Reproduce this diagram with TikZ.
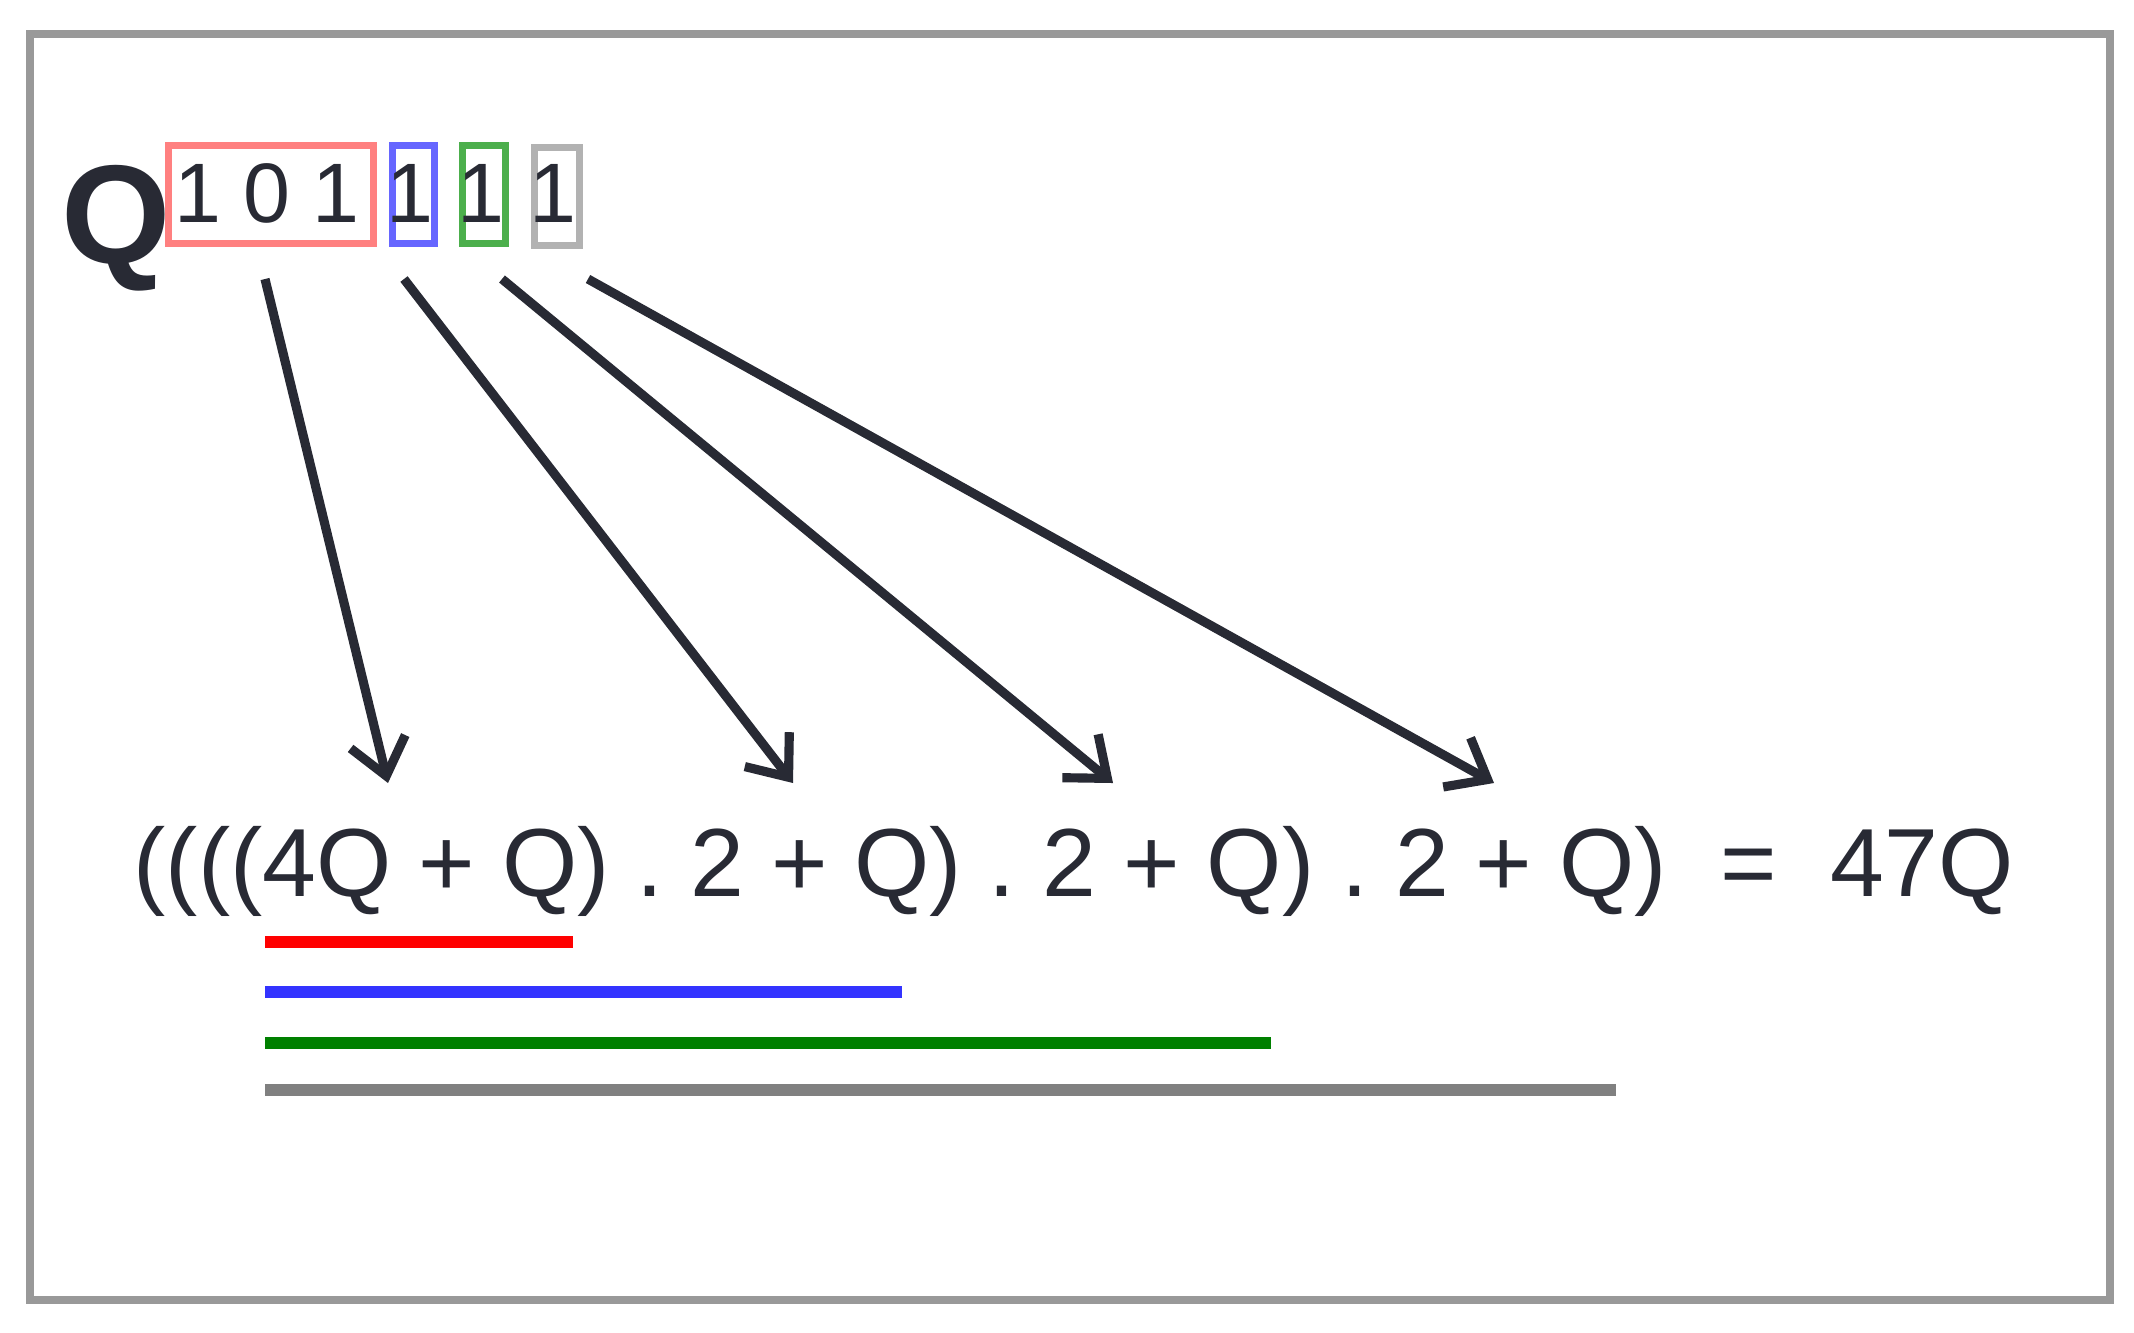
\documentclass[tikz,border=0pt]{standalone}
\usepackage{fontspec}
\usetikzlibrary{arrows.meta}
\setmainfont{Liberation Sans}
\definecolor{dk}{RGB}{40,42,52}
\begin{document}
\begin{tikzpicture}[x=0.01cm,y=-0.01cm,
  bx/.style={draw=#1,line width=2pt,minimum height=0.98cm,inner sep=0pt,anchor=north west},
  arr/.style={dk,line width=2.6pt,-{Straight Barb[length=10pt,width=16pt,line width=2.6pt]}},
  ul/.style={line width=3.5pt}]
\useasboundingbox (0,0) rectangle (2134,1332);
\draw[gray!80,line width=2.5pt] (30,34) rectangle (2110,1300);
\node[font=\fontsize{40}{40}\selectfont\bfseries,text=dk] (q) at (116,228) {Q};
\node[bx=red!50,minimum width=2.05cm] (r) at (165,142) {};
\node[bx=blue!60,minimum width=0.42cm] (b) at (389,142) {};
\node[bx=green!55!black!70,minimum width=0.43cm] (g) at (459,142) {};
\node[bx=gray!60,minimum width=0.45cm] (s) at (531,144) {};
\foreach \x/\d/\n in {198/1/d1,267/0/d2,336/1/d3,410/1/d4,481/1/d5,553/1/d6}
  \node[font=\fontsize{24}{24}\selectfont,text=dk] (\n) at (\x,193) {\d};
\coordinate (a1) at (265,279); \coordinate (e1) at (388,783);
\coordinate (a2) at (404,279); \coordinate (e2) at (793,783);
\coordinate (a3) at (502,279); \coordinate (e3) at (1113,783);
\coordinate (a4) at (588,279); \coordinate (e4) at (1494,783);
\foreach \i in {1,...,4} \draw[arr] (a\i) -- (e\i);
\node[font=\fontsize{27}{27}\selectfont,text=dk,anchor=west,inner sep=0pt] (eq) at (133,871)
  {\resizebox{18.79cm}{!}{((((4Q + Q) . 2 + Q) . 2 + Q) . 2 + Q) \ = \ 47Q}};
\draw[ul,red] (265,942) -- (573,942);
\draw[ul,blue!80] (265,992) -- (902,992);
\draw[ul,green!50!black] (265,1043) -- (1271,1043);
\draw[ul,gray] (265,1090) -- (1616,1090);
\end{tikzpicture}
\end{document}
